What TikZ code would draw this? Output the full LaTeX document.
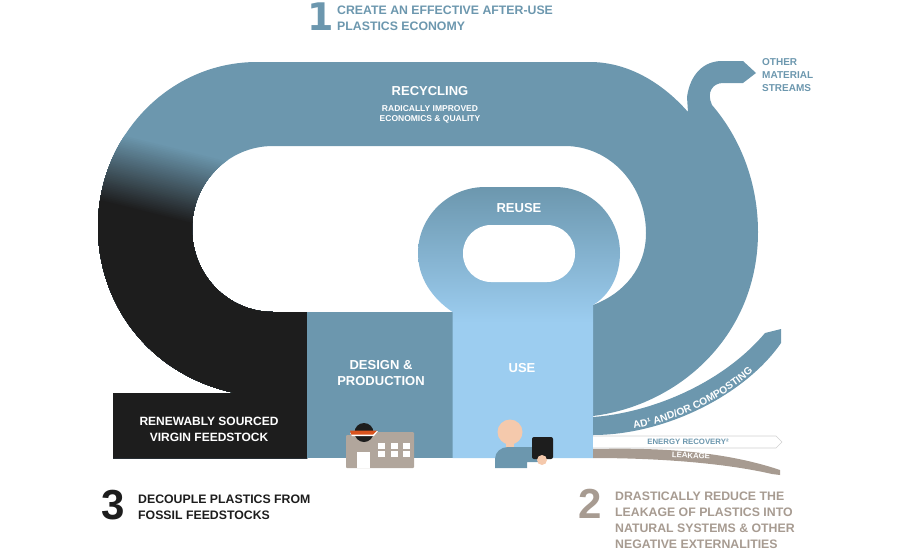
\documentclass[tikz,border=0pt]{standalone}
\usepackage{fontspec}
\setmainfont{Liberation Sans}
\newfontfamily\numfont{DejaVu Sans}
\usepackage{tikz}
\usetikzlibrary{
	positioning,
	decorations.text
}
\definecolor{bandblue}{HTML}{6C97AE}
\definecolor{useblue}{HTML}{9CCDF0}
\definecolor{coalink}{HTML}{1D1D1D}
\definecolor{leakbrown}{HTML}{A79B91}
\definecolor{buildgrey}{HTML}{B1A69C}
\definecolor{skintone}{HTML}{F5C9AC}
\definecolor{roofred}{HTML}{D9531E}

\tikzset{
	numeral/.style={inner sep=0,font=\numfont\bfseries\fontsize{38}{38}\selectfont},
	bignumeral/.style={inner sep=0,font=\bfseries\fontsize{42}{42}\selectfont},
	headline/.style={inner sep=0,align=left,anchor=north west,font=\bfseries\fontsize{12.3}{16}\selectfont},
	inlabel/.style={inner sep=0,align=center,text=white,font=\bfseries\fontsize{13}{16}\selectfont},
	sublabel/.style={inner sep=0,align=center,text=white,font=\bfseries\fontsize{8.5}{10}\selectfont},
	thinlabel/.style={inner sep=0,font=\bfseries\fontsize{7.8}{10}\selectfont}
}

% outline of the big loop, feedstock block included
\newcommand{\bandoutline}{
	(113,393) -- (235,393)
	.. controls (150,375) and (98,305) .. (98,227)
	.. controls (98,136) and (169,62) .. (257,62)
	-- (590,62)
	.. controls (625,62) and (660,80) .. (688,112)
	-- (687,97)
	.. controls (690,75) and (703,61) .. (722,61)
	-- (743,61) -- (756,73) -- (743,83) -- (723,83)
	.. controls (713,83) and (706,92) .. (712,105)
	.. controls (742,140) and (758,185) .. (758,232)
	.. controls (758,335) and (680,405) .. (593,416)
	-- (593,305)
	.. controls (625,293) and (646,267) .. (646,233)
	.. controls (646,185) and (610,146) .. (565,146)
	-- (273,146)
	.. controls (228,146) and (192,183) .. (192,229)
	.. controls (192,275) and (228,312) .. (273,312)
	-- (307,312) -- (307,458) -- (113,458) -- cycle
}

\begin{document}
\begin{tikzpicture}[x=1pt,y=-1pt]
	\useasboundingbox (0,0) rectangle (900,550);

	% loop, going black towards the feedstock
	\fill[bandblue] \bandoutline;
	\begin{scope}
		\clip \bandoutline;
		\foreach \i [evaluate=\i as \p using \i*2.5, evaluate=\i as \q using 118+\i*1.8] in {0,...,40}
			\fill[coalink!\p!bandblue] (60,\q) -- (307,\q+61.6) -- (307,458) -- (60,458) -- cycle;
	\end{scope}

	% design box and reuse/use shape
	\fill[bandblue] (307,312) rectangle (452.5,458);
	\shade[top color=bandblue,bottom color=useblue,middle color=useblue]
		(452.5,312)
		.. controls (432,298) and (418,278) .. (418,253)
		.. controls (418,217) and (448,187) .. (485,187)
		-- (555,187)
		.. controls (592,187) and (620,217) .. (620,253)
		.. controls (620,275) and (610,295) .. (593,305)
		-- (593,458) -- (452.5,458) -- cycle;
	\fill[white,rounded corners=28pt] (463,225) rectangle (575,282);

	% outlets on the right
	\fill[bandblue]
		(593,417) .. controls (650,413) and (722,384) .. (765,333)
		-- (781,329) -- (781,343)
		.. controls (745,395) and (665,435) .. (593,435) -- cycle;
	\draw[black!18,fill=white,line width=.6pt]
		(593,436) -- (776,436) -- (782,442) -- (776,448) -- (593,448);
	\fill[leakbrown]
		(593,449) .. controls (640,448) and (715,448) .. (780,470)
		-- (780,475) -- (772,474)
		.. controls (720,462) and (650,458) .. (593,458) -- cycle;

	% factory
	\fill[buildgrey,rounded corners=1pt] (346,435) -- (373,435) -- (376,432) -- (414,432) -- (414,468) -- (346,468) -- cycle;
	\fill[coalink] (364,432.5) circle (9.5);
	\fill[white] (350,433) -- (378,431) -- (374,436) -- (352,436) -- cycle;
	\fill[roofred] (350,430.5) -- (377,430.5) -- (373,434.5) -- (351,434.5) -- cycle;
	\fill[white] (357,452) rectangle (370,468);
	\foreach \wx in {378,391,403}
		\foreach \wy in {443,451}
			\fill[white] (\wx,\wy) rectangle +(6.5,6);

	% person with tablet
	\fill[skintone] (510,432) circle (12.5);
	\fill[skintone] (506,442) rectangle (514,449);
	\fill[bandblue]
		(495,468) -- (495,459)
		.. controls (495,452) and (501,447) .. (508,447)
		-- (534,447) -- (534,457) -- (540,458) -- (540,462) -- (527,462) -- (527,468) -- cycle;
	\fill[coalink,rounded corners=2pt] (532,437) rectangle (553,459);
	\fill[skintone] (542,460) circle (5);

	% labels
	\draw
		node[numeral,text=bandblue] (one) at (320.5,17) {1}
		node[bignumeral,text=leakbrown] (two) at (590.5,504) {2}
		node[bignumeral,text=coalink] (three) at (113,505) {3}

		node[headline,text=bandblue] (effective) at (337,6) {CREATE AN EFFECTIVE AFTER-USE\\PLASTICS ECONOMY}
		node[headline,text=coalink] (decouple) at (138,495) {DECOUPLE PLASTICS FROM\\FOSSIL FEEDSTOCKS}
		node[headline,text=leakbrown] (reduce) at (615,491.5) {DRASTICALLY REDUCE THE\\LEAKAGE OF PLASTICS INTO\\NATURAL SYSTEMS \& OTHER\\NEGATIVE EXTERNALITIES}
		node[headline,text=bandblue,font=\bfseries\fontsize{10}{13}\selectfont] (streams) at (762,58.5) {OTHER\\MATERIAL\\STREAMS}

		node[inlabel] (recycling) at (430,91) {RECYCLING}
		node[sublabel,below=10pt of recycling] (radically) {RADICALLY IMPROVED\\ECONOMICS \& QUALITY}
		node[inlabel] (reuse) at (519,208) {REUSE}
		node[inlabel] (use) at (522,368) {USE}
		node[inlabel] (design) at (381,373) {DESIGN \&\\PRODUCTION}
		node[inlabel,font=\bfseries\fontsize{12}{16}\selectfont] (renewably) at (209,429) {RENEWABLY SOURCED\\VIRGIN FEEDSTOCK}
		node[thinlabel,text=bandblue] (energy) at (688,442) {ENERGY RECOVERY²}
		node[thinlabel,text=white,rotate=-3] (leakage) at (691,455.5) {LEAKAGE}
	;
	\path[decorate,decoration={text along path,text align=center,
		text={|\color{white}\bfseries\fontsize{10.2}{10}\selectfont|AD¹ AND/OR COMPOSTING}}]
		(630,429.5) .. controls (680,421) and (725,398) .. (756,369);
\end{tikzpicture}
\end{document}
